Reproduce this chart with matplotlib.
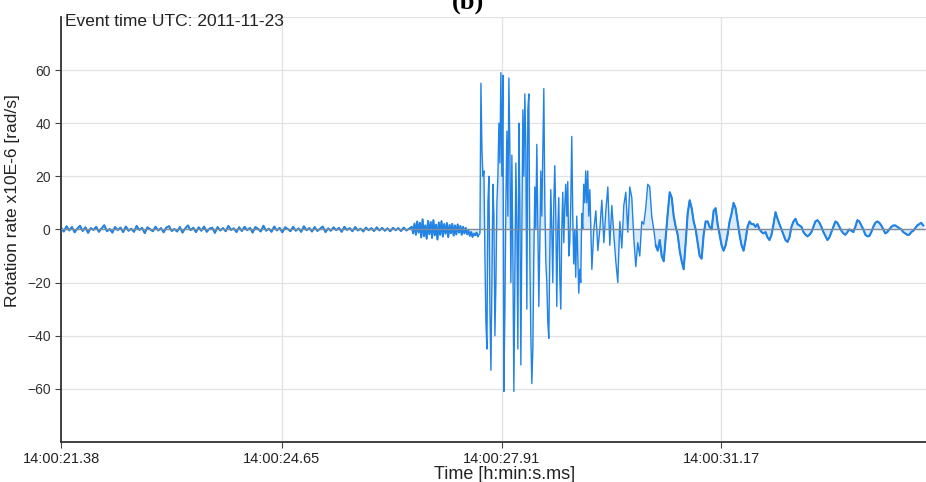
import numpy as np
import matplotlib.pyplot as plt

# Rotation rate (x10E-6 rad/s), in four pieces.
# Times are seconds after 14:00:21.38 UTC.

# quiet pre-event noise, one sample every 0.04 s
noise_t0, noise_dt = 0.0, 0.04
noise_vals = [
    0.6, -0.8, 1.2, -0.4, 0.9, -1.1, 0.3, 1.4, -0.6, 0.8, -1.3, 0.5, -0.2, 1.0, -0.9, 0.4, 1.6, -0.7, 0.2, -1.2,
    0.9, -0.3, 0.7, -1.0, 1.1, -0.5, 0.3, -0.9, 1.3, -0.2, 0.6, -1.4, 0.8, 0.1, -0.7, 1.0, -0.4, 0.5, -1.1, 0.7,
    1.2, -0.6, 0.2, -0.8, 0.9, -1.2, 0.4, 1.5, -0.3, 0.6, -1.0, 0.8, -0.5, 1.1, -0.9, 0.3, 0.7, -1.3, 0.9, -0.4,
    0.5, -0.7, 1.3, -0.2, 0.4, -1.0, 0.8, -0.6, 1.0, -0.3, 0.6, -1.2, 0.9, 0.2, -0.8, 1.4, -0.5, 0.3, -0.9, 1.1,
    -0.4, 0.6, -1.1, 0.8, 0.2, -0.7, 1.0, -0.5, 0.4, -0.9, 1.2, -0.3, 0.5, -0.8, 0.9, -0.6, 0.3, 1.1, -1.0, 0.4,
    -0.5, 0.8, -0.3, 0.6, -0.9, 1.0, -0.2, 0.5, -0.7, 0.9, -0.4, 0.3, -0.8, 0.7, -0.3, 0.5, -0.6, 0.8, -0.4, 0.6,
    -0.5, 0.4, -0.7, 0.6, -0.3, 0.5, -0.6, 0.7, -0.4, 0.3,
]

# P-wave precursor, one sample every 0.02 s
pre_t0, pre_dt = 5.2, 0.02
pre_vals = [
    1.0, -1.5, 2.2, -2.0, 3.0, -1.2, 2.5, -3.0, 3.8, -2.5, 1.5, -3.5, 3.2, -1.8, 2.8, -3.2, 3.5, -2.2, 1.8, -3.8,
    2.6, -2.0, 3.1, -2.7, 2.0, -1.6, 2.4, -2.9, 1.7, -1.4, 2.1, -2.3, 1.5, -1.9, 1.9, -1.2, 1.3, -2.0, 1.0, -1.5,
    0.6, -1.8, -0.5, -2.4, -1.0, -2.8, -1.6, -2.2, -1.2, -2.6,
]

# main burst, one sample every 0.0148 s
burst_t0, burst_dt = 6.21, 0.0148
burst_vals = [
    -1.5, 55, 30, 20, 22, -10, -35, -45, 10, 20, -30, -53, -20, 17, 5, -40, -20, 10, 20, 40,
    25, 59, 20, 58, -61, -30, 10, 37, 5, 57, 30, -20, 28, -10, -61, -20, 25, 0, -45, 40,
    10, -51, 0, 45, 20, 51, 30, -30, 45, 51, -10, -40, -58, -45, -10, 16, 0, 32, 0, -29,
    -5, 22, 5, 30, 53, 10, -12, -20, -35, -41, -10, 15, 0, -20, 10, 24, 5, -29, 0, 12,
    -18, -30, 0, 14, -5, 9, 17, 5, 18, -10, -5, 10, 35, 5, -13, 0, -18, 5, -10, -24,
    -15, -20, 6, 0, 17, 10, 22, 10, 22, 5,
]

# coda, one sample every 0.0296 s
coda_t0, coda_dt = 7.84, 0.0296
coda_vals = [
    15, -15, 0, 7, -8, 0, 11, -5, 7, 16, -6, 9, -2, -12, -20, 3, -7, 9, 14, -1,
    16, 12, -3, -14, -5, -10, 3, 2, 8, 17, 16, 5, 0, -6, -8, -4, -10, -12, -3, 6,
    14, 12, 5, 1, -2, -8, -12, -15, -5, 6, 11, 8, 3, 0, -5, -10, -11, -2, 3, 3,
    1, 0, 7, 8, 2, -2, -6, -8, -6, -2, 3, 6, 10, 8, 3, -2, -6, -8, -4, 1,
    3, 2, 2, 1, 2, 0, -1, -1.5, -1, -3, -4, -2, 2, 6.5, 4, 2, 0, -2, -4, -4.7,
    -3, 1, 3, 4, 2, 1.5, 1, -1, -2, -2.6, -2, -1, 1, 3, 3.5, 2.5, 1, -1, -2.5, -4,
    -3, -1, 1, 3, 2.5, 1, -0.5, -1.5, -2, -1, 0, -0.5, -1, 1, 3.5, 3, 1.5, 0, -2, -2.6,
    -2.5, -1, 1, 2.5, 3, 2.5, 1.5, 0, -1.5, -1, 0, 1, 1.5, 1.5, 1, 0.5, 0, -1, -1.5, -2,
    -2, -1, -0.5, 0.5, 1.5, 2, 2.5, 1.5,
]

tick_pos = [0.0, 3.27, 6.53, 9.79]
tick_labels = ["14:00:21.38", "14:00:24.65", "14:00:27.91", "14:00:31.17"]

pieces = [(noise_t0, noise_dt, noise_vals), (pre_t0, pre_dt, pre_vals),
          (burst_t0, burst_dt, burst_vals), (coda_t0, coda_dt, coda_vals)]
t = np.concatenate([t0 + dt * np.arange(len(v)) for t0, dt, v in pieces])
rate = np.concatenate([np.asarray(v, dtype=float) for _, _, v in pieces])

fig = plt.figure(figsize=(9.26, 4.82), dpi=100)
ax = fig.add_axes([0.066, 0.083, 0.957, 0.882])

line_col = "#2283e6"
grid_col = "#e2e2e2"
ax.fill_between(t, rate, 0, color="#9cc8f2", alpha=0.35, lw=0)
ax.plot(t, rate, color=line_col, lw=1.0)
# the quiet stretch and the coda look thicker in the record (fine jitter)
quiet = t < 6.2
ax.plot(t[quiet], rate[quiet], color=line_col, lw=1.4)
coda = t > 8.8
ax.plot(t[coda], rate[coda], color=line_col, lw=1.5)
ax.axhline(0, color="#7f8c99", lw=1.0, zorder=3)
ax.axhline(80, color=grid_col, lw=0.9, zorder=0)

ax.set_xlim(0, 13.14)
ax.set_ylim(-80, 80)
ax.set_yticks([-60, -40, -20, 0, 20, 40, 60])
ax.set_xticks(tick_pos)
ax.set_xticklabels(tick_labels, family="Liberation Sans", fontsize=10.5)
ax.tick_params(axis="y", labelsize=10, length=4, color="#444444", labelcolor="#333333")
ax.tick_params(axis="x", length=4, color="#444444", labelcolor="#222222")
for lab in ax.get_yticklabels():
    lab.set_family("Liberation Sans")
ax.grid(True, color=grid_col, lw=0.9)
ax.set_axisbelow(True)

for side in ["top", "right"]:
    ax.spines[side].set_visible(False)
for side in ["left", "bottom"]:
    ax.spines[side].set_color("#333333")
    ax.spines[side].set_linewidth(1.3)

ax.set_ylabel("Rotation rate x10E-6 [rad/s]", fontsize=12.5, family="Liberation Sans", color="#222222")
ax.yaxis.set_label_coords(-0.046, 0.567)
ax.set_xlabel("Time [h:min:s.ms]", fontsize=13, family="Liberation Sans", color="#222222", labelpad=0)
ax.text(0.004, 0.979, "Event time UTC: 2011-11-23", transform=ax.transAxes, ha="left", va="baseline",
        fontsize=12.5, family="Liberation Sans", color="#222222")
fig.text(0.505, 0.983, "(b)", ha="center", va="baseline", fontsize=19, weight="bold", family="Liberation Serif")

fig.savefig("out.png", dpi=100)
